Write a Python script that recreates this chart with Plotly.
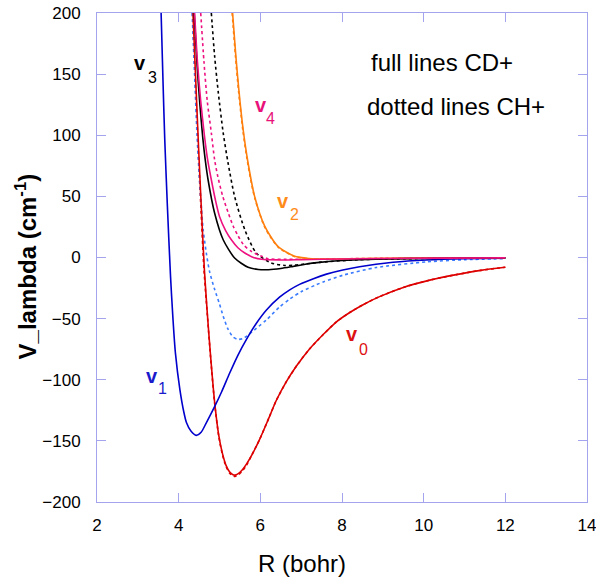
import plotly.graph_objects as go

# ---------------- data ----------------
# v0 (red)
R_v0_CD = [4.35, 4.42, 4.49, 4.56, 4.63, 4.70, 4.78, 4.88, 4.98, 5.07, 5.16, 5.25, 5.32, 5.38, 5.45, 5.55, 5.66, 5.80, 5.98, 6.20, 6.39, 6.63, 6.88, 7.20, 7.54, 7.85, 8.19, 8.55, 8.92, 9.50, 10.15, 10.80, 11.40, 12.0]
V_v0_CD = [200, 143, 88, 37, -10, -45, -80, -118, -145, -160, -170, -175.5, -177.5, -178, -177, -174, -169, -161, -149, -132, -117, -102, -89, -75, -63, -53, -45, -38, -32, -24.5, -18.5, -14, -10.5, -8]
R_v0_CH = [4.34, 4.41, 4.48, 4.55, 4.62, 4.70, 4.78, 4.88, 4.98, 5.07, 5.16, 5.25, 5.32, 5.38, 5.45, 5.55, 5.66, 5.80, 5.98, 6.20, 6.39, 6.63, 6.88, 7.20, 7.54, 7.85, 8.19, 8.55, 8.92, 9.50, 10.15, 10.80, 11.40, 12.0]
V_v0_CH = [200, 143, 88, 37, -10, -46, -81, -119, -146, -161, -171, -176.5, -178.5, -179, -178, -175, -170, -161, -149, -132, -117, -102, -89, -75, -63, -53, -45, -38, -32, -24.5, -18.5, -14, -10.5, -8]

# v1 (blue)
R_v1_CD = [3.57, 3.62, 3.66, 3.72, 3.80, 3.86, 3.92, 4.03, 4.13, 4.19, 4.30, 4.43, 4.55, 4.68, 4.88, 5.05, 5.25, 5.45, 5.66, 5.90, 6.15, 6.47, 6.72, 6.96, 7.30, 7.62, 8.02, 8.43, 9.25, 10.07, 11.0, 12.0]
V_v1_CD = [200, 140, 96, 45, -15, -50, -78, -108, -127, -135, -142, -145.5, -143, -135, -122, -110, -94.5, -80, -67, -54, -43, -32.5, -26.5, -22.0, -17.3, -13.6, -10.2, -7.5, -3.9, -2.0, -1.0, -0.5]
R_v1_CH = [4.33, 4.39, 4.45, 4.51, 4.56, 4.60, 4.68, 4.76, 4.88, 5.00, 5.09, 5.20, 5.33, 5.45, 5.56, 5.66, 5.90, 6.15, 6.47, 6.72, 7.00, 7.37, 7.54, 8.02, 8.84, 10.07, 11.0, 12.0]
V_v1_CH = [200, 150, 100, 63.6, 40, 22.7, 3, -12, -26, -38, -48, -58, -65, -67, -66.5, -64.5, -58, -51, -40.5, -34, -28, -22.3, -20, -14.5, -8.2, -3.6, -1.8, -0.9]

# v2 (orange)
R_v2_CD = [5.32, 5.40, 5.48, 5.58, 5.70, 5.86, 6.11, 6.43, 6.84, 7.20, 7.60, 8.50, 10.0, 12.0]
V_v2_CD = [200, 165, 135, 104.5, 77.3, 50, 25.5, 9.1, 1, -0.8, -1.2, -0.9, -0.5, -0.3]
R_v2_CH = [5.31, 5.39, 5.47, 5.57, 5.69, 5.86, 6.12, 6.45, 6.87, 7.20, 7.60, 8.50, 10.0, 12.0]
V_v2_CH = [200, 165, 135, 104.5, 77.3, 49, 24, 8, 0.5, -1, -1.3, -1, -0.6, -0.4]

# v3 (black)
R_v3_CD = [4.38, 4.45, 4.52, 4.59, 4.65, 4.72, 4.88, 5.09, 5.37, 5.70, 5.95, 6.20, 6.50, 6.80, 7.10, 7.45, 7.90, 8.43, 9.20, 10.0, 12.0]
V_v3_CD = [200, 158, 125, 98, 80, 63.6, 36.4, 14.5, -0.4, -8, -9.8, -10, -9, -7.3, -5.5, -4, -2.7, -1.8, -1.1, -0.8, -0.3]
R_v3_CH = [4.80, 4.88, 4.97, 5.09, 5.21, 5.37, 5.62, 5.90, 6.27, 6.60, 6.84, 7.10, 7.50, 8.40, 10.0, 12.0]
V_v3_CH = [200, 165, 135, 102, 77.3, 50, 22.7, 3.7, -4.5, -6.5, -6.2, -5.3, -3.8, -1.8, -0.8, -0.3]

# v4 (pink)
R_v4_CD = [4.39, 4.46, 4.54, 4.63, 4.70, 4.80, 4.90, 5.00, 5.15, 5.29, 5.45, 5.62, 5.80, 6.03, 6.50, 7.00, 8.00, 9.00, 10.5, 12.0]
V_v4_CD = [200, 160, 128, 100, 82, 63.6, 47, 33.6, 22, 14.5, 8, 3.7, 0.5, -1.5, -2, -1.8, -1.2, -0.8, -0.5, -0.3]
R_v4_CH = [4.54, 4.62, 4.70, 4.80, 4.88, 4.96, 5.08, 5.21, 5.33, 5.45, 5.60, 5.78, 6.00, 6.19, 6.60, 7.50, 9.00, 12.0]
V_v4_CH = [200, 160, 128, 102, 80, 66, 50, 37, 26, 18, 10, 5, 1.5, -1, -1.5, -1.2, -0.7, -0.3]

# label texts
curve_names = ["v0", "v1", "v2", "v3", "v4"]
subscripts = ["0", "1", "2", "3", "4"]
label_v_R = [8.25, 3.352, 6.555, 3.046, 6.004]
label_v_V = [-62.7, -97.3, 45.9, 158.9, 125.0]
label_s_R = [8.53, 3.616, 6.835, 3.364, 6.254]
label_s_V = [-75.0, -107.3, 35.0, 147.5, 114.1]

x_ticks = [2, 4, 6, 8, 10, 12, 14]
y_ticks = [-200, -150, -100, -50, 0, 50, 100, 150, 200]

# ---------------- styling ----------------
solid_colors = ["#dd0000", "#0000cc", "#ff7f0e", "#000000", "#ee1180"]
dot_colors = ["#dd0000", "#3a7bff", "#ff7f0e", "#000000", "#ee1180"]
label_colors = ["#dd1111", "#1a1acc", "#ff8c1a", "#000000", "#e8127a"]
axis_color = "#a3a3ee"
FONT = "Arial, Liberation Sans, sans-serif"

series_CD = [(R_v0_CD, V_v0_CD), (R_v1_CD, V_v1_CD), (R_v2_CD, V_v2_CD), (R_v3_CD, V_v3_CD), (R_v4_CD, V_v4_CD)]
series_CH = [(R_v0_CH, V_v0_CH), (R_v1_CH, V_v1_CH), (R_v2_CH, V_v2_CH), (R_v3_CH, V_v3_CH), (R_v4_CH, V_v4_CH)]

fig = go.Figure()
for i, (r, v) in enumerate(series_CH):
    fig.add_trace(go.Scatter(x=r, y=v, mode="lines", name=curve_names[i] + " CH+",
                             line=dict(color=dot_colors[i], width=1.6, dash="3px,3px", shape="spline", smoothing=0.7),
                             cliponaxis=True, showlegend=False))
for i, (r, v) in enumerate(series_CD):
    fig.add_trace(go.Scatter(x=r, y=v, mode="lines", name=curve_names[i] + " CD+",
                             line=dict(color=solid_colors[i], width=1.6, shape="spline", smoothing=0.7),
                             cliponaxis=True, showlegend=False))

annotations = []
for i in range(5):
    annotations.append(dict(x=label_v_R[i], y=label_v_V[i], xref="x", yref="y", text="<b>v</b>",
                            showarrow=False, font=dict(family=FONT, size=20, color=label_colors[i]),
                            xanchor="center", yanchor="middle"))
    annotations.append(dict(x=label_s_R[i], y=label_s_V[i], xref="x", yref="y", text=subscripts[i],
                            showarrow=False, font=dict(family=FONT, size=16, color=label_colors[i]),
                            xanchor="center", yanchor="middle"))

annotations.append(dict(x=10.44, y=159.3, xref="x", yref="y", text="full lines CD+", showarrow=False,
                        font=dict(family=FONT, size=24, color="black"), xanchor="center", yanchor="middle"))
annotations.append(dict(x=10.80, y=123.6, xref="x", yref="y", text="dotted lines CH+", showarrow=False,
                        font=dict(family=FONT, size=24, color="black"), xanchor="center", yanchor="middle"))

# axis titles (positions relative to the plot area)
annotations.append(dict(x=(302.5 - 97.3) / 490.0, y=-(564 - 502.3) / 489.0, xref="paper", yref="paper",
                        text="R (bohr)", showarrow=False, font=dict(family=FONT, size=24, color="black"),
                        xanchor="center", yanchor="middle"))
annotations.append(dict(x=(26 - 97.3) / 490.0, y=(502.3 - 267) / 489.0, xref="paper", yref="paper",
                        text="<b>V_lambda (cm<sup>-1</sup>)</b>", textangle=-90, showarrow=False,
                        font=dict(family=FONT, size=24, color="black"), xanchor="center", yanchor="middle"))

fig.update_layout(
    width=596, height=581,
    margin=dict(l=97, r=9, t=13, b=79, autoexpand=False),
    paper_bgcolor="white", plot_bgcolor="white",
    annotations=annotations,
    showlegend=False,
)
fig.update_xaxes(range=[2, 14], tickvals=x_ticks, ticks="inside", ticklen=9, tickcolor=axis_color,
                 showline=True, linecolor=axis_color, linewidth=1, mirror="ticks",
                 showgrid=False, zeroline=False, ticklabelstandoff=8, automargin=False,
                 ticklabeloverflow="allow",
                 tickfont=dict(family=FONT, size=17, color="black"))
fig.update_yaxes(range=[-200, 200], tickvals=y_ticks, ticks="inside", ticklen=9, tickcolor=axis_color,
                 showline=True, linecolor=axis_color, linewidth=1, mirror="ticks",
                 showgrid=False, zeroline=False, ticklabelstandoff=12, automargin=False,
                 ticklabeloverflow="allow",
                 tickfont=dict(family=FONT, size=17, color="black"))

# remove the default page margin so the figure sits at the window's top-left corner
fig.write_html("out.html", config={"displayModeBar": False},
               post_script="document.body.style.margin='0';document.body.style.overflow='hidden';")
